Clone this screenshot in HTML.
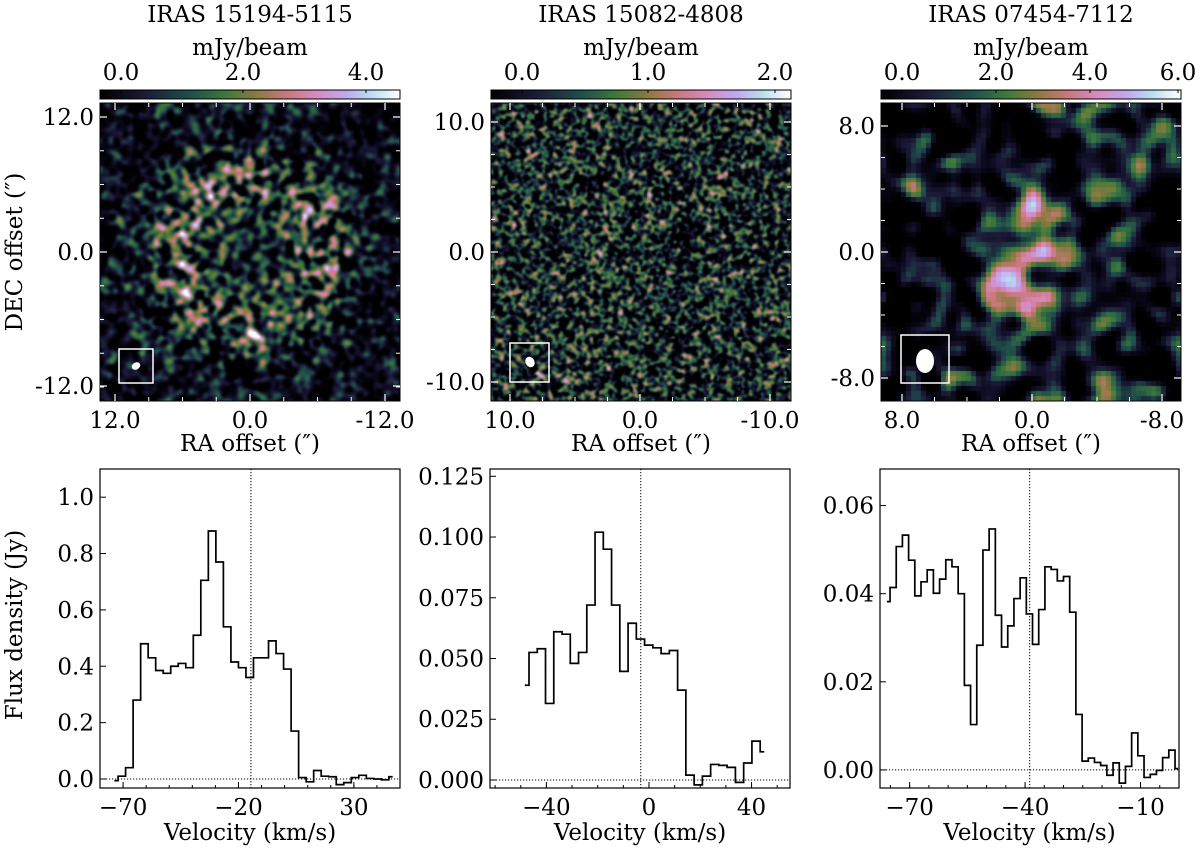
<!DOCTYPE html>
<html><head><meta charset="utf-8">
<style>
body{margin:0;background:#fff;width:1200px;height:850px;overflow:hidden;position:relative;font-family:"DejaVu Serif","Liberation Serif",serif}
canvas{position:absolute}
svg{position:absolute;left:0;top:0}
text{font-family:"DejaVu Serif","Liberation Serif",serif;font-size:23px;fill:#000}
</style></head>
<body>
<canvas id="c1" width="300" height="298" style="left:100px;top:103px;width:300px;height:298px"></canvas>
<canvas id="c2" width="300" height="298" style="left:491px;top:103px;width:300px;height:298px"></canvas>
<canvas id="c3" width="300" height="298" style="left:881px;top:103px;width:300px;height:298px"></canvas>
<svg id="s" width="1200" height="850">
<defs><linearGradient id="cm" x1="0" x2="1" y1="0" y2="0">
<stop offset="0" stop-color="#000"/><stop offset="0.15" stop-color="#1c1a38"/><stop offset="0.3" stop-color="#1f4f4a"/><stop offset="0.42" stop-color="#3d7a3a"/><stop offset="0.52" stop-color="#8a7a40"/><stop offset="0.62" stop-color="#c9787a"/><stop offset="0.72" stop-color="#d88ac0"/><stop offset="0.82" stop-color="#c0a8ef"/><stop offset="0.9" stop-color="#b8dcf0"/><stop offset="1" stop-color="#fff"/>
</linearGradient></defs>
</svg>
<script>
// ---- spectra data ----
const v1=[];for(let i=0;i<38;i++)v1.push(-73.8+i*3.26);
const f1=[-0.006,0.01,0.04,0.28,0.48,0.43,0.385,0.375,0.40,0.41,0.395,0.51,0.705,0.88,0.77,0.54,0.415,0.395,0.36,0.43,0.43,0.49,0.445,0.39,0.17,0.005,-0.01,0.03,0.01,0.008,-0.02,-0.013,0.005,0.013,0.002,0.0,-0.003,0.008];
const v2=[];for(let i=0;i<30;i++)v2.push(-48.4+i*3.22);
const f2=[0.039,0.0525,0.054,0.0315,0.061,0.060,0.048,0.0525,0.072,0.102,0.095,0.072,0.0447,0.0645,0.058,0.0555,0.0544,0.052,0.0533,0.037,0.002,-0.002,0.0016,0.0064,0.006,0.0052,-0.001,0.007,0.016,0.0116];
const v3=[];for(let i=0;i<48;i++)v3.push(-75.9+i*1.61);
const f3=[0.0382,0.0414,0.0507,0.0533,0.0476,0.0395,0.0427,0.0454,0.0401,0.0433,0.0477,0.0461,0.040,0.0192,0.0103,0.0283,0.0499,0.0547,0.0351,0.0279,0.0327,0.0389,0.0436,0.0354,0.0285,0.0364,0.0461,0.0455,0.0429,0.0439,0.0358,0.0126,0.002,0.0027,0.0017,0.001,-0.0012,0.0016,-0.003,0.0008,0.0084,0.0032,-0.0017,-0.001,-0.0001,0.0028,0.0045,0.0003];
const yt1=[0,0.2,0.4,0.6,0.8,1.0], ytl1=["0.0","0.2","0.4","0.6","0.8","1.0"];
const yt2=[0,0.025,0.05,0.075,0.1,0.125], ytl2=["0.000","0.025","0.050","0.075","0.100","0.125"];
const yt3=[0,0.02,0.04,0.06], ytl3=["0.00","0.02","0.04","0.06"];
const xt1=[-70,-20,30], xt2=[-40,0,40], xt3=[-70,-40,-10];
const vsys=[-14.6,-3.2,-38.8];

const S=document.getElementById('s');const NS='http://www.w3.org/2000/svg';
function el(t,a,p){const e=document.createElementNS(NS,t);for(const k in a)e.setAttribute(k,a[k]);(p||S).appendChild(e);return e;}
function txt(x,y,s,anchor,extra){const e=el('text',Object.assign({x:x,y:y,'text-anchor':anchor||'middle'},extra||{}));e.textContent=s;return e;}

function spectrum(box,xl,yl,v,f,yt,ytl,xt,minorStep,vs,name){
  const [L,T,R,B]=box;
  const X=x=>L+(x-xl[0])/(xl[1]-xl[0])*(R-L);
  const Y=y=>B-(y-yl[0])/(yl[1]-yl[0])*(B-T);
  const g=el('g',{});
  
  
  const fr=el('rect',{x:L,y:T,width:R-L,height:B-T,fill:'none',stroke:'#000','stroke-width':1.2},g);
  
  yt.forEach((t,i)=>{const y=Y(t);el('line',{x1:L,x2:L+6,y1:y,y2:y,stroke:'#000'},g);
    const l=txt(L-6,y+8,ytl[i],'end');});
  for(let m=Math.ceil(xl[0]/minorStep)*minorStep;m<=xl[1];m+=minorStep){const x=X(m);el('line',{x1:x,x2:x,y1:B,y2:B-3,stroke:'#000'},g);}
  xt.forEach(t=>{const x=X(t);el('line',{x1:x,x2:x,y1:B,y2:B-6,stroke:'#000'},g);
    const l=txt(x,B+27,(t<0?'\u2212':'')+Math.abs(t));});
  const h=el('line',{x1:L,x2:R,y1:Y(0),y2:Y(0),stroke:'#000','stroke-dasharray':'1.2,1.8','stroke-width':1},g);
  
  const vl=el('line',{x1:X(vs),x2:X(vs),y1:T,y2:B,stroke:'#000','stroke-dasharray':'1.2,1.8','stroke-width':1},g);
  
  let d='M'+X(v[0])+' '+Y(f[0]);
  for(let i=1;i<v.length;i++){const mx=X((v[i-1]+v[i])/2);d+=' H'+mx+' V'+Y(f[i]);}
  d+=' H'+X(v[v.length-1]);
  const p=el('path',{d:d,fill:'none',stroke:'#000','stroke-width':1.7},g);
  
  const xl2=txt((L+R)/2,840,'Velocity (km/s)');
}
spectrum([100,469,400,788],[-80,50],[-0.032,1.1],v1,f1,yt1,ytl1,xt1,10,vsys[0],'spectrum-iras15194');
spectrum([490,469,790,788],[-62,55],[-0.0033,0.128],v2,f2,yt2,ytl2,xt2,10,vsys[1],'spectrum-iras15082');
spectrum([880,469,1179,788],[-77.7,0],[-0.0041,0.0683],v3,f3,yt3,ytl3,xt3,5,vsys[2],'spectrum-iras07454');
const fy=txt(0,0,'Flux density (Jy)','middle',{transform:'translate(22,625) rotate(-90)'});


// ---- top map panels ----
const titles=['IRAS 15194-5115','IRAS 15082-4808','IRAS 07454-7112'];
const lefts=[100,491,881];
const cbTickPx=[[121,243,366],[522,648,775],[902,996,1090,1178]];
const cbTickLab=[['0.0','2.0','4.0'],['0.0','1.0','2.0'],['0.0','2.0','4.0','6.0']];
const axTickLab=[['12.0','0.0','-12.0'],['10.0','0.0','-10.0'],['8.0','0.0','-8.0']];
const axYpx=[[117,252,386],[122,252,382],[126,252,378]];
const axXoff=[[15,150,285],[19,149,279],[21,151,281]];
const beams=[[119,349,34,34,136,366,4.5,3.5],[510,343,39,39,530,362,4.5,5.5],[901,335,48,48,925,361,9,12]];
for(let k=0;k<3;k++){
  const L=lefts[k],R=L+300,T=103,B=401;const g=el('g',{});
  
  const t=txt(L+150,22,titles[k]);
  const u=txt(L+150,55,'mJy/beam');
  const cb=el('rect',{x:L,y:90,width:300,height:9,fill:'url(#cm)',stroke:'#000','stroke-width':1},g);
  
  cbTickPx[k].forEach((x,i)=>{el('line',{x1:x,x2:x,y1:90,y2:93,stroke:'#000'},g);
    const l=txt(x,80,cbTickLab[k][i]);});
  el('rect',{x:L,y:T,width:300,height:B-T,fill:'none',stroke:'#000','stroke-width':1},g);
  axYpx[k].forEach((y,i)=>{el('line',{x1:L,x2:L+7,y1:y,y2:y,stroke:'#fff','stroke-width':1.2},g);el('line',{x1:R-7,x2:R,y1:y,y2:y,stroke:'#fff','stroke-width':1.2},g);
    const l=txt(L-6,y+8,axTickLab[k][i],'end');
  });
  const dy=(axYpx[k][1]-axYpx[k][0])/4;
  for(let y=axYpx[k][0]-dy*2;y<B;y+=dy){if(y<T)continue;el('line',{x1:L,x2:L+4,y1:y,y2:y,stroke:'#fff'},g);el('line',{x1:R-4,x2:R,y1:y,y2:y,stroke:'#fff'},g);}
  axXoff[k].forEach((o,i)=>{const x=L+o;el('line',{x1:x,x2:x,y1:B,y2:B-7,stroke:'#fff','stroke-width':1.2},g);el('line',{x1:x,x2:x,y1:T,y2:T+7,stroke:'#fff','stroke-width':1.2},g);
    const l=txt(x,428,axTickLab[k][i]);});
  const dx=(axXoff[k][1]-axXoff[k][0])/4;
  for(let x=L+axXoff[k][0]-dx*2;x<R;x+=dx){if(x<L)continue;el('line',{x1:x,x2:x,y1:B,y2:B-4,stroke:'#fff'},g);el('line',{x1:x,x2:x,y1:T,y2:T+4,stroke:'#fff'},g);}
  const bm=beams[k];
  const bb=el('rect',{x:bm[0],y:bm[1],width:bm[2],height:bm[3],fill:'none',stroke:'#fff','stroke-width':1.5},g);
  
  el('ellipse',{cx:bm[4],cy:bm[5],rx:bm[6],ry:bm[7],fill:'#fff',transform:k<2?'rotate(-30 '+bm[4]+' '+bm[5]+')':''},g);
  const ra=txt(L+150,451,'RA offset (\u2033)');
}
const dec=txt(0,0,'DEC offset (\u2033)','middle',{transform:'translate(22,252) rotate(-90)'});


// ---- textures ----
const stops=[[0,0,0,0],[0.1,10,8,25],[0.2,28,26,56],[0.3,31,79,74],[0.42,61,122,58],[0.52,138,122,64],[0.62,201,120,122],[0.72,216,138,192],[0.82,192,168,239],[0.9,184,220,240],[1,255,255,255]];
function cmap(v){v=Math.max(0,Math.min(1,v));for(let i=1;i<stops.length;i++){if(v<=stops[i][0]){const a=stops[i-1],b=stops[i],t=(v-a[0])/(b[0]-a[0]);return [a[1]+t*(b[1]-a[1]),a[2]+t*(b[2]-a[2]),a[3]+t*(b[3]-a[3])];}}return [255,255,255];}
function rng(s){return function(){s|=0;s=s+0x6D2B79F5|0;let t=Math.imul(s^s>>>15,1|s);t=t+Math.imul(t^t>>>7,61|t)^t;return((t^t>>>14)>>>0)/4294967296;}}
function noise(N,sig,seed){const r=rng(seed);let a=new Float32Array(N*N);for(let i=0;i<N*N;i++)a[i]=r()-0.5;
  const rad=Math.ceil(sig*2.5),ker=[];let ks=0;for(let i=-rad;i<=rad;i++){const w=Math.exp(-i*i/(2*sig*sig));ker.push(w);ks+=w;}
  let b=new Float32Array(N*N);
  for(let y=0;y<N;y++)for(let x=0;x<N;x++){let s=0;for(let i=-rad;i<=rad;i++){const xx=(x+i+N)%N;s+=a[y*N+xx]*ker[i+rad];}b[y*N+x]=s/ks;}
  const c=new Float32Array(N*N);
  for(let y=0;y<N;y++)for(let x=0;x<N;x++){let s=0;for(let i=-rad;i<=rad;i++){const yy=(y+i+N)%N;s+=b[yy*N+x]*ker[i+rad];}c[y*N+x]=s/ks;}
  let m=0;for(let i=0;i<N*N;i++)m+=c[i]*c[i];m=Math.sqrt(m/(N*N));for(let i=0;i<N*N;i++)c[i]/=m;return c;}
function draw(id,N,sig,seed,fn,smooth){
  const n=noise(N,sig,seed);const off=document.createElement('canvas');off.width=N;off.height=N;const ox=off.getContext('2d');const im=ox.createImageData(N,N);
  for(let y=0;y<N;y++)for(let x=0;x<N;x++){const u=(x+0.5)/N*2-1,w=1-(y+0.5)/N*2;const c=cmap(fn(n[y*N+x],u,w));const i=(y*N+x)*4;im.data[i]=c[0];im.data[i+1]=c[1];im.data[i+2]=c[2];im.data[i+3]=255;}
  ox.putImageData(im,0,0);const ctx=document.getElementById(id).getContext('2d');ctx.imageSmoothingEnabled=smooth;ctx.drawImage(off,0,0,300,298);}
draw('c1',150,1.3,7,(n,u,w)=>{const r=Math.hypot(u,w)*13.3;const ring=Math.exp(-(r-6.5)*(r-6.5)/(2*2.5*2.5));const disk=r<8?0.06:0;return 0.1+0.11*n+0.2*ring+disk+0.14*n*ring;},true);
draw('c2',200,1.0,11,(n,u,w)=>0.2+0.19*n,true);
const blobs=[[-0.3,2.5,0.65],[1.6,-1.5,0.6],[-1.7,0.3,0.45],[2.2,1.2,0.35],[-1.2,-3.3,0.4],[1.0,-3.0,0.35],[0,-0.5,0.25]];
draw('c3',60,1.5,23,(n,u,w)=>{const x=u*9.3,y=w*9.3;let s=0;blobs.forEach(b=>{const dx=x+b[0],dy=y-b[1];s+=b[2]*Math.exp(-(dx*dx+dy*dy)/(2*1.0*1.0));});return 0.1+0.17*n+s;},false);
</script>
</body></html>
